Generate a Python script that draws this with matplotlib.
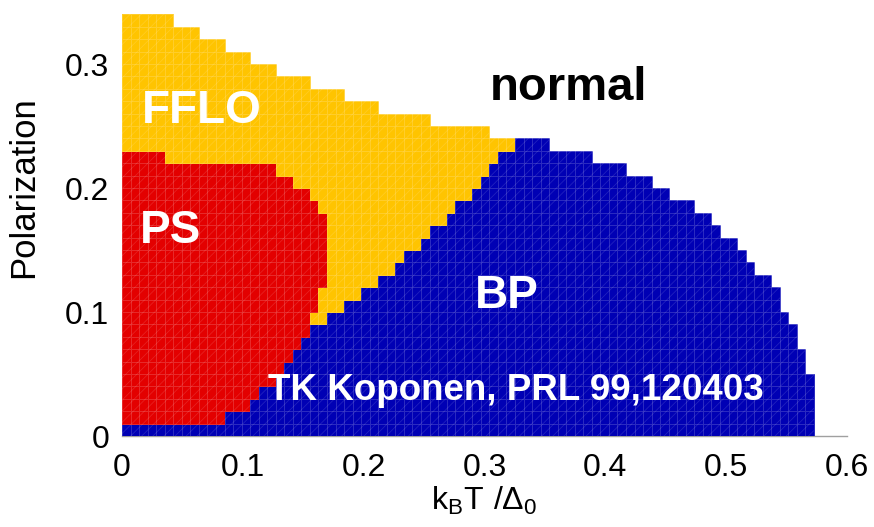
import numpy as np
import matplotlib
matplotlib.use("Agg")
import matplotlib.pyplot as plt
from matplotlib.colors import ListedColormap

plt.rcParams['font.family'] = ['Liberation Sans', 'DejaVu Sans']
plt.rcParams['mathtext.fontset'] = 'custom'
plt.rcParams['mathtext.rm'] = 'Liberation Sans'
plt.rcParams['hatch.linewidth'] = 0.6

# grid of the phase diagram: temperature columns, polarization rows
T_STEP = 0.00707
P_STEP = 0.01
N_COLS = 81
N_ROWS = 34

# per-row boundaries, in column index (row k covers P in [k, k+1] * P_STEP)
ps_right = [0, 12, 15, 16, 18, 19, 20, 21, 22, 22, 23, 23, 24, 24, 24, 24,
            24, 24, 23, 22, 20, 18, 5]
bp_left = [0, 12, 15, 16, 18, 19, 20, 21, 22, 24, 26, 28, 30, 32, 33, 35,
           36, 38, 39, 41, 42, 43, 44, 46]
bp_right = [81, 81, 81, 81, 81, 80, 80, 79, 79, 78, 77, 77, 76, 74, 73, 72,
            70, 69, 67, 64, 62, 59, 55, 50]
# rows above the BP dome: FFLO extends from T=0 to this column
fflo_right = [43, 36, 30, 26, 22, 18, 15, 12, 9, 6]

# 0 normal, 1 BP, 2 PS, 3 FFLO
phase_colors = ['white', '#0000b4', '#e30000', '#ffc400']

phase = np.zeros((N_ROWS, N_COLS), dtype=int)
for k in range(len(bp_right)):
    r = ps_right[k] if k < len(ps_right) else 0
    phase[k, :r] = 2
    phase[k, r:bp_left[k]] = 3
    phase[k, bp_left[k]:bp_right[k]] = 1
for j, c in enumerate(fflo_right):
    phase[len(bp_right) + j, :c] = 3

row_extent = list(bp_right) + list(fflo_right)

x_edges = np.arange(N_COLS + 1) * T_STEP
y_edges = np.arange(N_ROWS + 1) * P_STEP

fig = plt.figure(figsize=(8.74, 5.27), dpi=100)
ax = fig.add_axes([122 / 874, 91 / 527, 725 / 874, 434 / 527])

masked = np.ma.masked_equal(phase, 0)
ax.pcolormesh(x_edges, y_edges, masked, cmap=ListedColormap(phase_colors),
              vmin=-0.5, vmax=3.5, edgecolors=(1, 1, 1, 0.17),
              linewidth=0.5, zorder=2)

# faint diagonal texture over the coloured cells
for k, c in enumerate(row_extent):
    ax.barh(k * P_STEP, c * T_STEP, height=P_STEP, left=0, align='edge',
            facecolor='none', edgecolor=(1, 1, 1, 0.13), hatch='///',
            linewidth=0, zorder=3)

ax.set_xlim(0, 0.6)
ax.set_ylim(0, 0.35)
ax.set_xticks([0, 0.1, 0.2, 0.3, 0.4, 0.5, 0.6])
ax.set_yticks([0, 0.1, 0.2, 0.3])
fmt = lambda v, pos: '0' if v == 0 else f'{v:.1f}'
ax.xaxis.set_major_formatter(plt.FuncFormatter(fmt))
ax.yaxis.set_major_formatter(plt.FuncFormatter(fmt))
ax.tick_params(axis='both', length=0, labelsize=23)
ax.tick_params(axis='x', pad=12)
ax.tick_params(axis='y', pad=9)

for side in ['left', 'top', 'right']:
    ax.spines[side].set_visible(False)
ax.spines['bottom'].set_color('#a0a0a0')
ax.spines['bottom'].set_linewidth(1.0)
ax.spines['bottom'].set_zorder(1)

ax.set_ylabel('Polarization', fontsize=25)
ax.yaxis.set_label_coords(-0.113, 0.574)
ax.set_xlabel(r'$\mathregular{k_BT\ /Δ_0}$', fontsize=23)
ax.xaxis.set_label_coords(0.5, -0.112)

lab = dict(fontweight='bold', color='white', zorder=5)
ax.text(0.0163, 0.2527, 'FFLO', fontsize=33, **lab)
ax.text(0.0149, 0.1556, 'PS', fontsize=33, **lab)
ax.text(0.2923, 0.1032, 'BP', fontsize=33, **lab)
ax.text(0.1209, 0.029, 'TK Koponen, PRL 99,120403', fontsize=26.5, **lab)
ax.text(0.3046, 0.271, 'normal', fontsize=34, fontweight='bold',
        color='black', zorder=5)

fig.savefig('out.png', dpi=100)
